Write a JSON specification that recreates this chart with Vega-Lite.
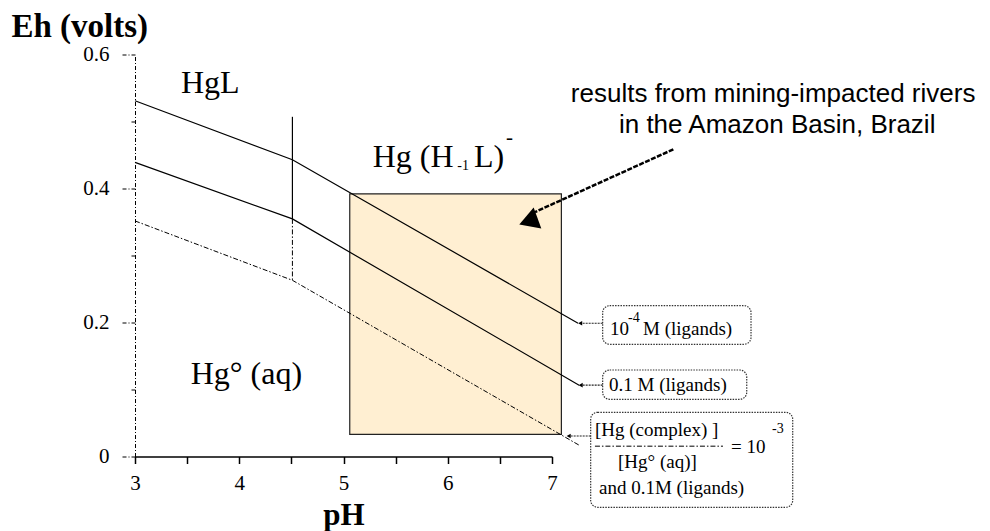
{
  "$schema": "https://vega.github.io/schema/vega-lite/v6.json",
  "width": 417,
  "height": 402,
  "autosize": {"type": "none"},
  "padding": {"left": 135, "top": 54.5, "right": 438, "bottom": 74.5},
  "background": "white",
  "config": {
    "view": {"stroke": null},
    "font": "Liberation Serif",
    "axis": {"labelFont": "Liberation Serif", "labelColor": "black", "titleFont": "Liberation Serif", "titleColor": "black", "grid": false},
    "axisX": {"labelFontSize": 21},
    "axisY": {"labelFontSize": 21}
  },
  "datasets": {
    "area": [{"pH": 5.06, "pH2": 7.09, "Eh": 0.033, "Eh2": 0.392}],
    "solid": [
      {"s": "top", "o": 1, "pH": 3, "Eh": 0.531},
      {"s": "top", "o": 2, "pH": 4.51, "Eh": 0.443},
      {"s": "top", "o": 3, "pH": 7.25, "Eh": 0.199},
      {"s": "mid", "o": 1, "pH": 3, "Eh": 0.439},
      {"s": "mid", "o": 2, "pH": 4.51, "Eh": 0.3546},
      {"s": "mid", "o": 3, "pH": 7.26, "Eh": 0.1065},
      {"s": "vline", "o": 1, "pH": 4.51, "Eh": 0.507},
      {"s": "vline", "o": 2, "pH": 4.51, "Eh": 0.3546}
    ],
    "dashdot": [
      {"s": "ratio", "o": 1, "pH": 3, "Eh": 0.3516},
      {"s": "ratio", "o": 2, "pH": 4.51, "Eh": 0.263},
      {"s": "ratio", "o": 3, "pH": 7.27, "Eh": 0.016},
      {"s": "vline2", "o": 1, "pH": 4.51, "Eh": 0.3546},
      {"s": "vline2", "o": 2, "pH": 4.51, "Eh": 0.263},
      {"s": "frac", "o": 1, "pH": 7.412, "Eh": 0.0154},
      {"s": "frac", "o": 2, "pH": 8.64, "Eh": 0.0154}
    ],
    "legarrows": [
      {"s": "a1", "o": 1, "pH": 7.486, "Eh": 0.1989},
      {"s": "a1", "o": 2, "pH": 7.27, "Eh": 0.1989},
      {"s": "a2", "o": 1, "pH": 7.486, "Eh": 0.1065},
      {"s": "a2", "o": 2, "pH": 7.275, "Eh": 0.1065},
      {"s": "a3", "o": 1, "pH": 7.371, "Eh": 0.0306},
      {"s": "a3", "o": 2, "pH": 7.16, "Eh": 0.0306}
    ],
    "heads": [
      {"pH": 7.27, "Eh": 0.1989},
      {"pH": 7.275, "Eh": 0.1065},
      {"pH": 7.16, "Eh": 0.0306}
    ],
    "bigarrow": [
      {"o": 1, "pH": 8.164, "Eh": 0.4585},
      {"o": 2, "pH": 6.837, "Eh": 0.3649}
    ],
    "bighead": [{"pH": 6.808, "Eh": 0.3575}],
    "lboxes": [
      {"pH": 7.486, "pH2": 8.909, "Eh": 0.1675, "Eh2": 0.2251},
      {"pH": 7.486, "pH2": 8.868, "Eh": 0.0854, "Eh2": 0.1291},
      {"pH": 7.371, "pH2": 9.309, "Eh": -0.0758, "Eh2": 0.066}
    ],
    "bigtext": [
      {"t": "HgL", "pH": 3.441, "Eh": 0.5425},
      {"t": "Hg° (aq)", "pH": 3.534, "Eh": 0.1082},
      {"t": "Hg (H", "pH": 5.28, "Eh": 0.4321},
      {"t": "L)", "pH": 6.252, "Eh": 0.4321}
    ],
    "subtext": [{"t": "-1", "pH": 6.092, "Eh": 0.4276}],
    "suptext": [{"t": "-", "pH": 6.559, "Eh": 0.466}],
    "note": [
      {"t": "results from mining-impacted rivers", "pH": 9.121, "Eh": 0.5296},
      {"t": "in the Amazon Basin, Brazil", "pH": 9.16, "Eh": 0.4834}
    ],
    "legtext": [
      {"t": "10", "pH": 7.556, "Eh": 0.1813},
      {"t": "M (ligands)", "pH": 7.873, "Eh": 0.1813},
      {"t": "0.1 M (ligands)", "pH": 7.547, "Eh": 0.0978},
      {"t": "[Hg (complex) ]", "pH": 7.412, "Eh": 0.0313},
      {"t": "[Hg° (aq)]", "pH": 7.633, "Eh": -0.0176},
      {"t": "= 10", "pH": 8.717, "Eh": 0.0048},
      {"t": "and 0.1M (ligands)", "pH": 7.451, "Eh": -0.0564}
    ],
    "legsup": [
      {"t": "-4", "pH": 7.729, "Eh": 0.2012},
      {"t": "-3", "pH": 9.11, "Eh": 0.0346}
    ]
  },
  "encoding": {
    "x": {
      "field": "pH", "type": "quantitative",
      "scale": {"domain": [3, 7], "nice": false, "zero": false},
      "axis": {
        "values": [3, 3.5, 4, 4.5, 5, 5.5, 6, 6.5, 7],
        "format": "~g",
        "labelExpr": "datum.value % 1 === 0 ? datum.label : ''",
        "grid": false,
        "tickSize": 7, "tickWidth": 1.5, "domainWidth": 1.5,
        "domainColor": "black", "tickColor": "black",
        "labelFont": "Liberation Serif", "labelFontSize": 21, "labelColor": "black",
        "labelPadding": 9, "labelOverlap": false, "labelFlush": false, "labelBound": false,
        "title": "pH", "titleFont": "Liberation Serif", "titleFontSize": 31, "titleFontWeight": "bold",
        "titleColor": "black", "titleBaseline": "alphabetic", "titleY": 68
      }
    },
    "y": {
      "field": "Eh", "type": "quantitative",
      "scale": {"domain": [0, 0.6], "nice": false, "zero": false},
      "axis": {
        "values": [0, 0.1, 0.2, 0.3, 0.4, 0.5, 0.6],
        "format": "~g",
        "labelExpr": "round(datum.value*10) % 2 === 0 ? datum.label : ''",
        "grid": false,
        "tickSize": {"condition": {"test": "round(datum.value*10) % 2 === 1", "value": 4}, "value": 14},
        "tickDash": [4, 2, 1, 2], "domainDash": [4, 2, 1, 2],
        "domainColor": "black", "tickColor": "black", "tickWidth": 1, "domainWidth": 1,
        "labelFont": "Liberation Serif", "labelFontSize": 21, "labelColor": "black",
        "labelPadding": 12, "labelOverlap": false, "labelFlush": false, "labelBound": false,
        "title": "Eh (volts)", "titleAngle": 0, "titleAlign": "left", "titleBaseline": "alphabetic",
        "titleX": -124, "titleY": -17.8,
        "titleFont": "Liberation Serif", "titleFontSize": 33, "titleFontWeight": "bold", "titleColor": "black"
      }
    }
  },
  "layer": [
    {
      "data": {"name": "area"},
      "mark": {"type": "rect", "fill": "#FFEFD2", "stroke": "#222", "strokeWidth": 1.2},
      "encoding": {"x2": {"field": "pH2"}, "y2": {"field": "Eh2"}}
    },
    {
      "data": {"name": "lboxes"},
      "mark": {"type": "rect", "fill": "white", "stroke": "#333", "strokeWidth": 1.2, "strokeDash": [1.5, 1.2], "cornerRadius": 7},
      "encoding": {"x2": {"field": "pH2"}, "y2": {"field": "Eh2"}}
    },
    {
      "data": {"name": "solid"},
      "mark": {"type": "line", "color": "black", "strokeWidth": 1.2},
      "encoding": {"detail": {"field": "s"}, "order": {"field": "o"}}
    },
    {
      "data": {"name": "dashdot"},
      "mark": {"type": "line", "color": "black", "strokeWidth": 1, "strokeDash": [5, 2, 1.5, 2]},
      "encoding": {"detail": {"field": "s"}, "order": {"field": "o"}}
    },
    {
      "data": {"name": "legarrows"},
      "mark": {"type": "line", "color": "#222", "strokeWidth": 1.2, "strokeDash": [2, 1]},
      "encoding": {"detail": {"field": "s"}, "order": {"field": "o"}}
    },
    {
      "data": {"name": "heads"},
      "mark": {"type": "point", "shape": "triangle-left", "filled": true, "color": "black", "size": 22, "opacity": 1}
    },
    {
      "data": {"name": "bigarrow"},
      "mark": {"type": "line", "color": "black", "strokeWidth": 2.5, "strokeDash": [5, 1.5]},
      "encoding": {"order": {"field": "o"}}
    },
    {
      "data": {"name": "bighead"},
      "mark": {"type": "point", "shape": "triangle-up", "filled": true, "color": "black", "size": 500, "angle": 10, "opacity": 1}
    },
    {
      "data": {"name": "bigtext"},
      "mark": {"type": "text", "align": "left", "baseline": "alphabetic", "font": "Liberation Serif", "fontSize": 32, "color": "black"},
      "encoding": {"text": {"field": "t"}}
    },
    {
      "data": {"name": "subtext"},
      "mark": {"type": "text", "align": "left", "baseline": "alphabetic", "font": "Liberation Serif", "fontSize": 14, "color": "black"},
      "encoding": {"text": {"field": "t"}}
    },
    {
      "data": {"name": "suptext"},
      "mark": {"type": "text", "align": "left", "baseline": "alphabetic", "font": "Liberation Serif", "fontSize": 21, "color": "black"},
      "encoding": {"text": {"field": "t"}}
    },
    {
      "data": {"name": "note"},
      "mark": {"type": "text", "align": "center", "baseline": "alphabetic", "font": "Liberation Sans", "fontSize": 26, "color": "black"},
      "encoding": {"text": {"field": "t"}}
    },
    {
      "data": {"name": "legtext"},
      "mark": {"type": "text", "align": "left", "baseline": "alphabetic", "font": "Liberation Serif", "fontSize": 19, "color": "black"},
      "encoding": {"text": {"field": "t"}}
    },
    {
      "data": {"name": "legsup"},
      "mark": {"type": "text", "align": "left", "baseline": "alphabetic", "font": "Liberation Serif", "fontSize": 14, "color": "black"},
      "encoding": {"text": {"field": "t"}}
    }
  ]
}
